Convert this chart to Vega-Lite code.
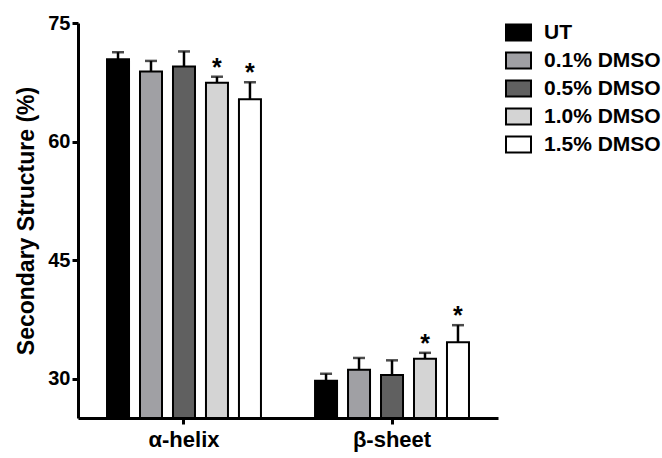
{
  "$schema": "https://vega.github.io/schema/vega-lite/v6.json",
  "width": 420,
  "height": 395,
  "autosize": "none",
  "padding": {"left": 78, "top": 23, "right": 164, "bottom": 40},
  "config": {
    "view": {"stroke": null},
    "font": "Liberation Sans",
    "axis": {
      "grid": false,
      "domainColor": "black",
      "domainWidth": 3,
      "tickColor": "black",
      "tickWidth": 3,
      "tickSize": 6,
      "labelColor": "black",
      "labelFont": "Liberation Sans",
      "labelFontWeight": "bold",
      "labelFontSize": 20,
      "titleColor": "black",
      "titleFont": "Liberation Sans",
      "titleFontWeight": "bold",
      "titleFontSize": 23
    },
    "legend": {
      "orient": "none",
      "legendX": 427,
      "legendY": -4,
      "padding": 0,
      "symbolType": "M-1,-0.64H1V0.64H-1Z",
      "symbolSize": 625,
      "symbolStrokeColor": "black",
      "symbolStrokeWidth": 2,
      "labelFont": "Liberation Sans",
      "labelFontSize": 21,
      "labelFontWeight": "bold",
      "labelColor": "black",
      "labelOffset": 12,
      "rowPadding": 2,
      "labelLimit": 300
    }
  },
  "data": {
    "values": [
      {"structure": "α-helix", "condition": "UT", "value": 70.4, "upper": 71.3, "sig": ""},
      {"structure": "α-helix", "condition": "0.1% DMSO", "value": 68.85, "upper": 70.2, "sig": ""},
      {"structure": "α-helix", "condition": "0.5% DMSO", "value": 69.5, "upper": 71.4, "sig": ""},
      {"structure": "α-helix", "condition": "1.0% DMSO", "value": 67.45, "upper": 68.2, "sig": "*"},
      {"structure": "α-helix", "condition": "1.5% DMSO", "value": 65.35, "upper": 67.5, "sig": "*"},
      {"structure": "β-sheet", "condition": "UT", "value": 29.7, "upper": 30.6, "sig": ""},
      {"structure": "β-sheet", "condition": "0.1% DMSO", "value": 31.1, "upper": 32.6, "sig": ""},
      {"structure": "β-sheet", "condition": "0.5% DMSO", "value": 30.45, "upper": 32.3, "sig": ""},
      {"structure": "β-sheet", "condition": "1.0% DMSO", "value": 32.5, "upper": 33.25, "sig": "*"},
      {"structure": "β-sheet", "condition": "1.5% DMSO", "value": 34.6, "upper": 36.75, "sig": "*"}
    ]
  },
  "encoding": {
    "x": {
      "field": "structure",
      "type": "nominal",
      "sort": ["α-helix", "β-sheet"],
      "scale": {"paddingInner": 0.207, "paddingOuter": 0.113},
      "axis": {"title": null, "labelAngle": 0, "labelFontSize": 22, "labelPadding": 5}
    },
    "xOffset": {
      "field": "condition",
      "type": "nominal",
      "sort": ["UT", "0.1% DMSO", "0.5% DMSO", "1.0% DMSO", "1.5% DMSO"],
      "scale": {"paddingInner": 0.333, "paddingOuter": 0.167}
    }
  },
  "layer": [
    {
      "mark": {"type": "bar", "stroke": "black", "strokeWidth": 2},
      "encoding": {
        "y": {
          "field": "value",
          "type": "quantitative",
          "scale": {"domain": [25, 75], "nice": false, "zero": false},
          "axis": {"values": [30, 45, 60, 75], "title": "Secondary Structure (%)", "titlePadding": 9, "labelPadding": 2}
        },
        "y2": {"datum": 25},
        "fill": {
          "field": "condition",
          "type": "nominal",
          "sort": ["UT", "0.1% DMSO", "0.5% DMSO", "1.0% DMSO", "1.5% DMSO"],
          "scale": {"range": ["#000000", "#a0a0a4", "#606060", "#d4d4d4", "#ffffff"]},
          "legend": {"title": null}
        }
      }
    },
    {
      "mark": {"type": "rule", "color": "black", "strokeWidth": 2.5},
      "encoding": {
        "y": {"field": "value", "type": "quantitative"},
        "y2": {"field": "upper"}
      }
    },
    {
      "mark": {"type": "tick", "color": "black", "thickness": 2.5, "size": 12},
      "encoding": {
        "y": {"field": "upper", "type": "quantitative"}
      }
    },
    {
      "transform": [{"filter": "datum.sig == '*'"}],
      "mark": {"type": "text", "fontSize": 25, "fontWeight": "bold", "font": "Liberation Sans", "baseline": "alphabetic", "dy": -1, "color": "black"},
      "encoding": {
        "y": {"field": "upper", "type": "quantitative"},
        "text": {"field": "sig"}
      }
    }
  ]
}
